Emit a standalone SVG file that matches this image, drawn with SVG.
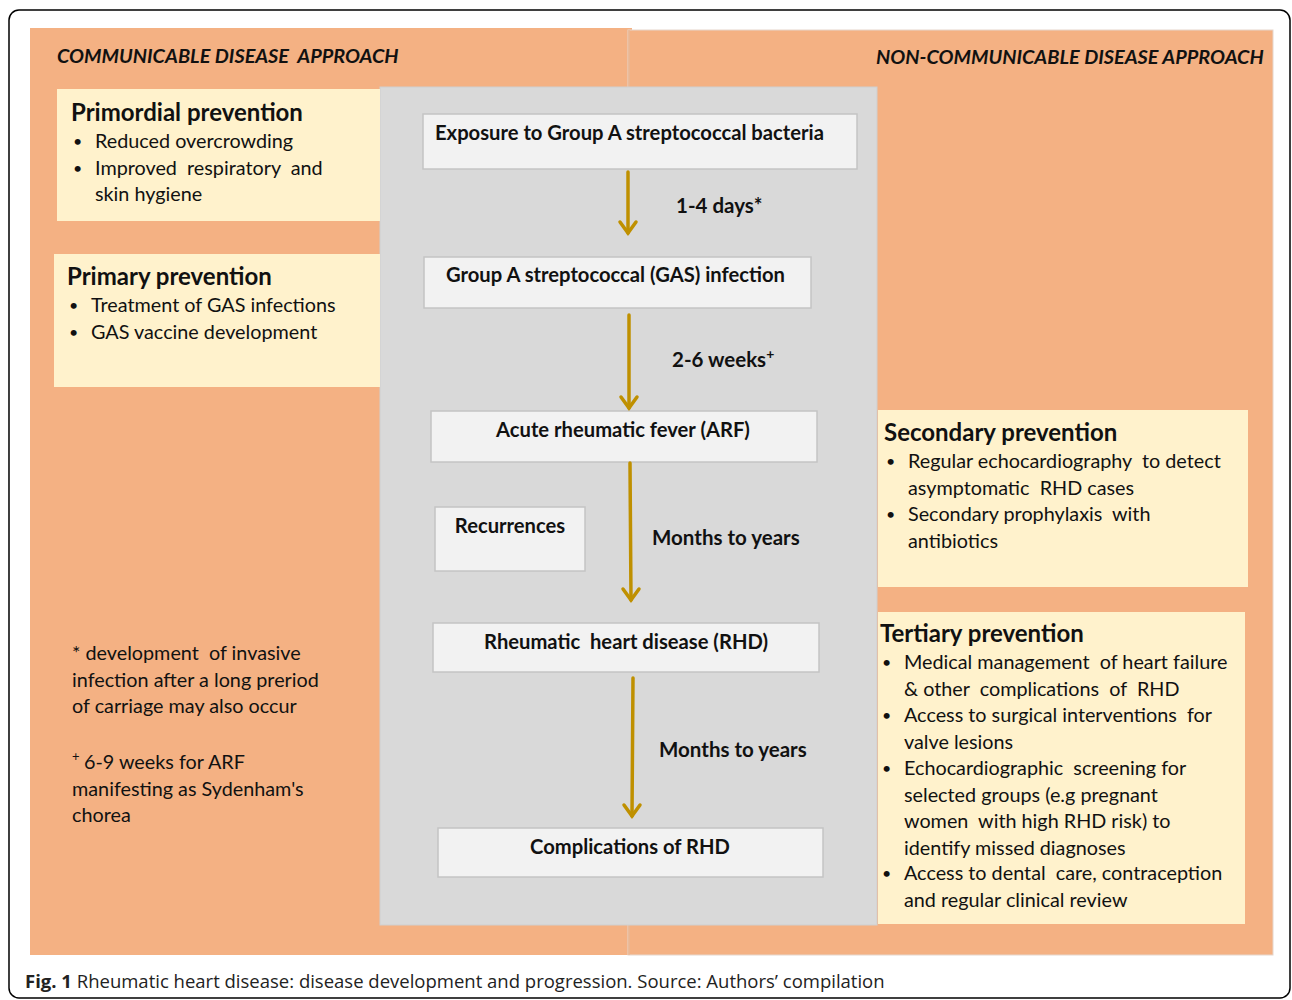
<svg xmlns="http://www.w3.org/2000/svg" width="1292" height="1000" viewBox="0 0 1292 1000" xml:space="preserve">
<defs>
<style>
.t{font-family:Lato,"Open Sans","Liberation Sans",sans-serif;fill:#111;white-space:pre}
.h{font-weight:bold;font-size:24px}
.b{font-size:19.8px}
.bu{font-size:16px}
.n{font-weight:bold;font-size:20.2px}
.lab{font-weight:bold;font-size:20.5px}
.hdr{font-weight:bold;font-style:italic;font-size:19.9px}
.box{fill:#F2F2F2;stroke:#C4C4C4;stroke-width:1.5}
.pbox{fill:#FFF2CC}
.arr{stroke:#BF9000;stroke-width:3.5;fill:none;stroke-linecap:round}
.cap{font-family:"Open Sans","Noto Sans",sans-serif;font-size:18.5px;fill:#222;white-space:pre}
</style>
</defs>
<rect x="0" y="0" width="1292" height="1000" fill="#fff"/>
<rect x="9" y="10" width="1281" height="988" rx="10" fill="none" stroke="#000" stroke-width="1.5"/>
<g id="panels">
<rect x="30" y="28" width="602" height="927" fill="#F4B183"/>
<rect x="628" y="30" width="645" height="925" fill="#F4B183" stroke="#E6D6CC" stroke-width="1"/>
<line x1="629" y1="30" x2="629" y2="955" stroke="#E8B896" stroke-width="1.5"/>
<rect x="380" y="87" width="497" height="838" fill="#D9D9D9" stroke="#CFCFCF" stroke-width="1"/>
</g>
<g id="headers">
<text class="t hdr" x="57" y="63">COMMUNICABLE DISEASE  APPROACH</text>
<text class="t hdr" x="876" y="64">NON-COMMUNICABLE DISEASE APPROACH</text>
</g>
<g id="primordial">
<rect class="pbox" x="57" y="89" width="323" height="132"/>
<text class="t h" x="71" y="121">Primordial prevention</text>
<text class="t bu" x="73" y="147">•</text><text class="t b" x="95" y="148">Reduced overcrowding</text>
<text class="t bu" x="73" y="174">•</text><text class="t b" x="95" y="175">Improved  respiratory  and</text>
<text class="t b" x="95" y="201">skin hygiene</text>
</g>
<g id="primary">
<rect class="pbox" x="54" y="254" width="326" height="133"/>
<text class="t h" x="67" y="285">Primary prevention</text>
<text class="t bu" x="69" y="311">•</text><text class="t b" x="91" y="312">Treatment of GAS infections</text>
<text class="t bu" x="69" y="338">•</text><text class="t b" x="91" y="339">GAS vaccine development</text>
</g>
<g id="exposure">
<rect class="box" x="423" y="114" width="434" height="55"/>
<text class="t n" x="435" y="140">Exposure to Group A streptococcal bacteria</text>
</g>
<g id="gas">
<rect class="box" x="424" y="257" width="387" height="51"/>
<text class="t n" x="446" y="282">Group A streptococcal (GAS) infection</text>
</g>
<g id="arf">
<rect class="box" x="431" y="411" width="386" height="51"/>
<text class="t n" x="623" y="437" text-anchor="middle">Acute rheumatic fever (ARF)</text>
</g>
<g id="recurrences">
<rect class="box" x="435" y="507" width="150" height="64"/>
<text class="t n" x="510" y="533" text-anchor="middle">Recurrences</text>
</g>
<g id="rhd">
<rect class="box" x="433" y="623" width="386" height="49"/>
<text class="t n" x="626" y="649" text-anchor="middle">Rheumatic  heart disease (RHD)</text>
</g>
<g id="complications">
<rect class="box" x="438" y="828" width="385" height="49"/>
<text class="t n" x="630" y="854" text-anchor="middle">Complications of RHD</text>
</g>
<g id="connectors">
<line class="arr" x1="628" y1="172" x2="628" y2="233"/>
<polyline class="arr" points="620,222 628,233 636,222"/>
<line class="arr" x1="629" y1="315" x2="629" y2="408"/>
<polyline class="arr" points="621,397 629,408 637,397"/>
<line class="arr" x1="630" y1="463" x2="631" y2="600"/>
<polyline class="arr" points="623,589 631,600 639,589"/>
<line class="arr" x1="633" y1="678" x2="632" y2="816"/>
<polyline class="arr" points="624,805 632,816 640,805"/>
<text class="t lab" x="676" y="213">1-4 days*</text>
<text class="t lab" x="672" y="367">2-6 weeks<tspan dy="-8" font-size="14">+</tspan></text>
<text class="t lab" x="652" y="545">Months to years</text>
<text class="t lab" x="659" y="757">Months to years</text>
</g>
<g id="secondary">
<rect class="pbox" x="878" y="410" width="370" height="177"/>
<text class="t h" x="884" y="441">Secondary prevention</text>
<text class="t bu" x="886" y="467">•</text><text class="t b" x="908" y="468">Regular echocardiography  to detect</text>
<text class="t b" x="908" y="495">asymptomatic  RHD cases</text>
<text class="t bu" x="886" y="520">•</text><text class="t b" x="908" y="521">Secondary prophylaxis  with</text>
<text class="t b" x="908" y="548">antibiotics</text>
</g>
<g id="tertiary">
<rect class="pbox" x="878" y="612" width="367" height="312"/>
<text class="t h" x="880" y="642">Tertiary prevention</text>
<text class="t bu" x="882" y="668">•</text><text class="t b" x="904" y="669">Medical management  of heart failure</text>
<text class="t b" x="904" y="696">&amp; other  complications  of  RHD</text>
<text class="t bu" x="882" y="721">•</text><text class="t b" x="904" y="722">Access to surgical interventions  for</text>
<text class="t b" x="904" y="749">valve lesions</text>
<text class="t bu" x="882" y="774">•</text><text class="t b" x="904" y="775">Echocardiographic  screening for</text>
<text class="t b" x="904" y="802">selected groups (e.g pregnant</text>
<text class="t b" x="904" y="828">women  with high RHD risk) to</text>
<text class="t b" x="904" y="855">identify missed diagnoses</text>
<text class="t bu" x="882" y="879">•</text><text class="t b" x="904" y="880">Access to dental  care, contraception</text>
<text class="t b" x="904" y="907">and regular clinical review</text>
</g>
<g id="footnotes">
<text class="t b" x="72" y="660">* development  of invasive</text>
<text class="t b" x="72" y="687">infection after a long preriod</text>
<text class="t b" x="72" y="713">of carriage may also occur</text>
<text class="t b" x="72" y="769"><tspan dy="-8" font-size="13">+</tspan><tspan dy="8" x="84">6-9 weeks for ARF</tspan></text>
<text class="t b" x="72" y="796">manifesting as Sydenham's</text>
<text class="t b" x="72" y="822">chorea</text>
</g>
<text class="cap" x="25" y="988"><tspan font-weight="bold">Fig. 1</tspan> Rheumatic heart disease: disease development and progression. Source: Authors’ compilation</text>
</svg>
